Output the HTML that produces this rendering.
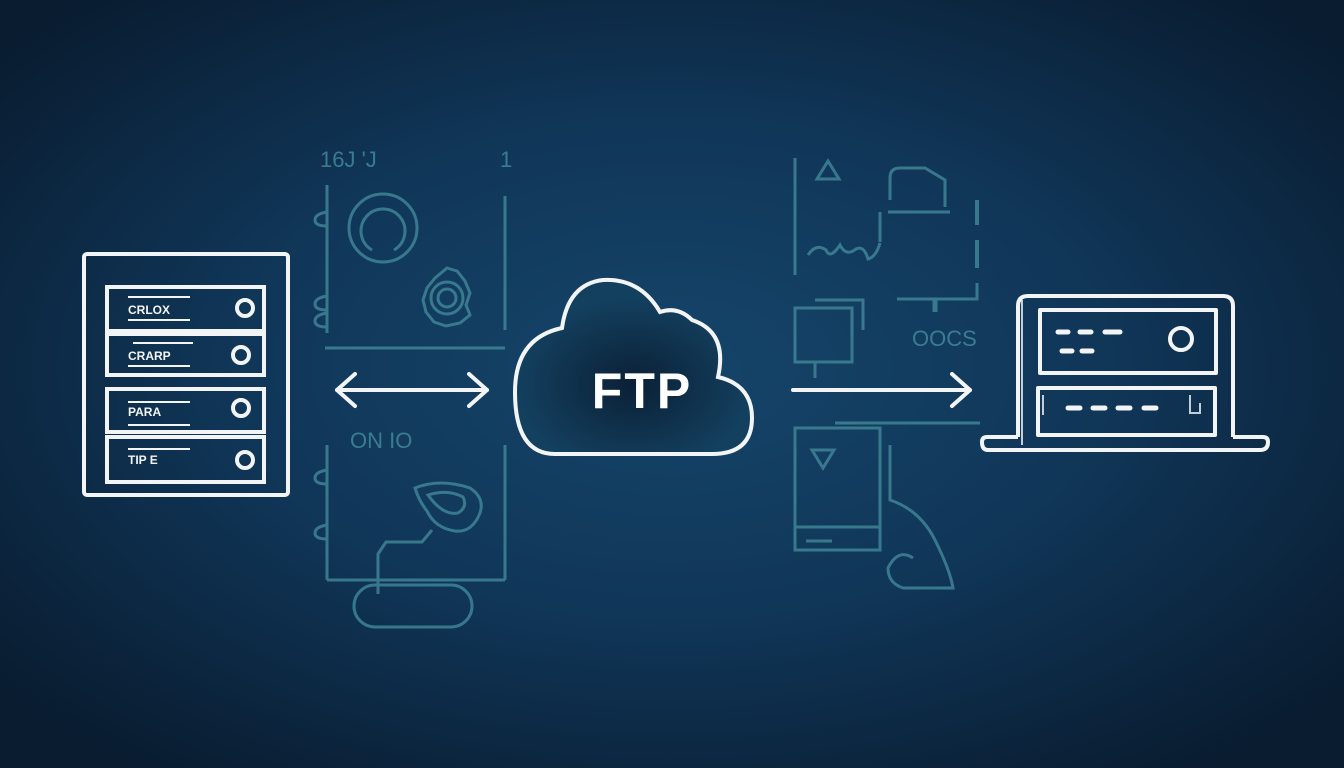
<!DOCTYPE html>
<html><head><meta charset="utf-8"><style>
html,body{margin:0;padding:0;width:1344px;height:768px;overflow:hidden;background:#0b2036}
svg{display:block}
</style></head><body>
<svg width="1344" height="768" viewBox="0 0 1344 768" xmlns="http://www.w3.org/2000/svg">
<defs>
<radialGradient id="bg" cx="50%" cy="48%" r="65%">
<stop offset="0" stop-color="#15456a"/>
<stop offset="0.5" stop-color="#103658"/>
<stop offset="1" stop-color="#091c30"/>
</radialGradient>
<radialGradient id="cg" cx="50%" cy="60%" r="50%">
<stop offset="0" stop-color="#0b2036"/>
<stop offset="1" stop-color="#13405f"/>
</radialGradient>
</defs>
<rect width="1344" height="768" fill="url(#bg)"/>

<!-- faded teal left panel -->
<g stroke="#3f8496" stroke-width="3" fill="none" opacity="0.85">
<line x1="327" y1="185" x2="327" y2="333"/>
<line x1="505" y1="196" x2="505" y2="330"/>
<line x1="325" y1="348" x2="505" y2="348"/>
<path d="M327 212 q-12 2 -12 8 q0 6 12 6"/>
<path d="M327 296 q-12 2 -12 8 q0 6 12 6"/>
<path d="M327 313 q-12 2 -12 8 q0 6 12 6"/>
<circle cx="383" cy="228" r="34"/>
<path d="M372 250 a22 22 0 1 1 22 0"/>
<path d="M447 268 l10 3 8 10 5 12 -4 12 4 10 -10 8 -14 3 -12 -4 -8 -10 -3 -12 4 -12 8 -10 z"/>
<circle cx="447" cy="298" r="16"/><circle cx="447" cy="298" r="9"/>
<line x1="327" y1="445" x2="327" y2="580"/>
<line x1="505" y1="445" x2="505" y2="580"/>
<line x1="327" y1="580" x2="505" y2="580"/>
<path d="M327 470 q-12 2 -12 8 q0 6 12 6"/>
<path d="M327 525 q-12 2 -12 8 q0 6 12 6"/>
<path d="M415 488 q25 -10 55 0 q15 10 10 25 q-8 20 -25 18 q-20 -3 -28 -20 q-8 -10 -12 -23z"/>
<path d="M428 495 q20 -6 35 2 q5 10 -5 16 q-15 3 -30 -18z"/>
<path d="M432 530 l-10 12 h-36 l-8 12 v40"/>
<rect x="354" y="585" width="118" height="42" rx="21"/>
</g>
<g fill="#3f8496" font-family="Liberation Sans, sans-serif" font-size="22" opacity="0.9">
<text x="320" y="167">16J 'J</text>
<text x="500" y="167">1</text>
<text x="350" y="448">ON IO</text>
</g>

<!-- faded teal right panel -->
<g stroke="#3f8496" stroke-width="3" fill="none" opacity="0.85">
<line x1="795" y1="158" x2="795" y2="275"/>
<path d="M828 161 l-11 18 h22 z"/>
<path d="M890 200 v-22 q0 -10 10 -10 h25 l20 12 v27"/>
<line x1="888" y1="212" x2="950" y2="212"/>
<path d="M808 255 q8 -12 18 -5 q4 10 14 -5 q6 12 16 4 q8 -4 12 10 q8 -2 12 -16 M880 212 v30"/>
<line x1="977" y1="200" x2="977" y2="225" stroke-width="4"/>
<line x1="977" y1="240" x2="977" y2="268" stroke-width="4"/>
<path d="M977 283 v16 h-80"/>
<line x1="935" y1="300" x2="935" y2="312" stroke-width="5"/>
<path d="M815 300 h48 v30"/>
<rect x="795" y="308" width="57" height="54"/>
<line x1="815" y1="362" x2="815" y2="378"/>
<line x1="835" y1="423" x2="980" y2="423"/>
<rect x="795" y="428" width="85" height="122"/>
<line x1="795" y1="527" x2="880" y2="527"/>
<line x1="806" y1="541" x2="832" y2="541"/>
<path d="M812 450 h22 l-11 18 z"/>
<path d="M890 445 v55 q30 10 45 40 q15 30 18 48 h-50 q-15 -5 -15 -20 q10 -20 25 -10"/>
</g>
<text x="912" y="346" fill="#3f8496" font-family="Liberation Sans, sans-serif" font-size="22" opacity="0.9">OOCS</text>

<!-- server left -->
<g stroke="#f2f4f5" stroke-width="4" fill="none">
<rect x="84" y="254" width="204" height="241" rx="3"/>
<rect x="107" y="287" width="157" height="44"/>
<rect x="107" y="334" width="157" height="41"/>
<rect x="107" y="389" width="157" height="43"/>
<rect x="107" y="437" width="157" height="45"/>
<circle cx="245" cy="308" r="8"/>
<circle cx="241" cy="355" r="8"/>
<circle cx="241" cy="408" r="8"/>
<circle cx="245" cy="460" r="8"/>
</g>
<g stroke="#f2f4f5" stroke-width="2">
<line x1="128" y1="297" x2="190" y2="297"/><line x1="128" y1="320" x2="190" y2="320"/>
<line x1="133" y1="343" x2="193" y2="343"/><line x1="128" y1="366" x2="190" y2="366"/>
<line x1="128" y1="402" x2="190" y2="402"/><line x1="128" y1="425" x2="190" y2="425"/>
<line x1="128" y1="449" x2="190" y2="449"/>
</g>
<g fill="#f2f4f5" font-family="Liberation Sans, sans-serif" font-size="12" font-weight="bold">
<text x="128" y="314">CRLOX</text>
<text x="128" y="360">CRARP</text>
<text x="128" y="416">PARA</text>
<text x="128" y="464">TIP E</text>
</g>

<!-- double arrow -->
<g stroke="#f2f4f5" stroke-width="4" fill="none" stroke-linecap="round" stroke-linejoin="round">
<line x1="337" y1="390" x2="487" y2="390"/>
<path d="M355 374 l-18 16 18 16"/>
<path d="M469 374 l18 16 -18 16"/>
<line x1="793" y1="390" x2="970" y2="390"/>
<path d="M952 374 l18 16 -18 16"/>
</g>

<!-- cloud -->
<path d="M555 454 L712 454 Q752 454 752 418 Q752 385 718 377 Q728 332 692 320 Q678 306 660 312 Q640 278 603 280 Q568 284 562 328 Q515 338 515 392 Q515 454 555 454 Z" fill="url(#cg)" stroke="#f2f4f5" stroke-width="4"/>
<text x="642" y="408" text-anchor="middle" fill="#ffffff" font-family="Liberation Sans, sans-serif" font-weight="bold" font-size="50" letter-spacing="2">FTP</text>

<!-- laptop/device right -->
<g stroke="#f2f4f5" stroke-width="4" fill="none" stroke-linejoin="round">
<path d="M1018 437 V306 q0 -10 10 -10 h195 q10 0 10 10 V437"/>
<rect x="1040" y="310" width="176" height="63"/>
<circle cx="1181" cy="339" r="11"/>
<rect x="1038" y="388" width="177" height="47"/>
<path d="M982 442 q0 -5 5 -5 h26 q5 0 5 0 M1233 437 h30 q5 0 5 5 q0 8 -8 8 H988 q-6 0 -6 -8"/>
</g>
<g stroke="#f2f4f5" stroke-width="2" fill="none" opacity="0.8">
<path d="M1022 300 v145"/><path d="M1043 395 v20"/><path d="M1190 395 v18 h10 v-10"/>
</g>
<g stroke="#f2f4f5" stroke-width="5" stroke-linecap="round">
<line x1="1058" y1="332" x2="1068" y2="332"/><line x1="1080" y1="332" x2="1091" y2="332"/><line x1="1105" y1="332" x2="1120" y2="332"/>
<line x1="1062" y1="351" x2="1072" y2="351"/><line x1="1082" y1="351" x2="1092" y2="351"/>
<line x1="1068" y1="408" x2="1080" y2="408"/><line x1="1093" y1="408" x2="1105" y2="408"/><line x1="1118" y1="408" x2="1130" y2="408"/><line x1="1144" y1="408" x2="1156" y2="408"/>
</g>
</svg>
</body></html>
